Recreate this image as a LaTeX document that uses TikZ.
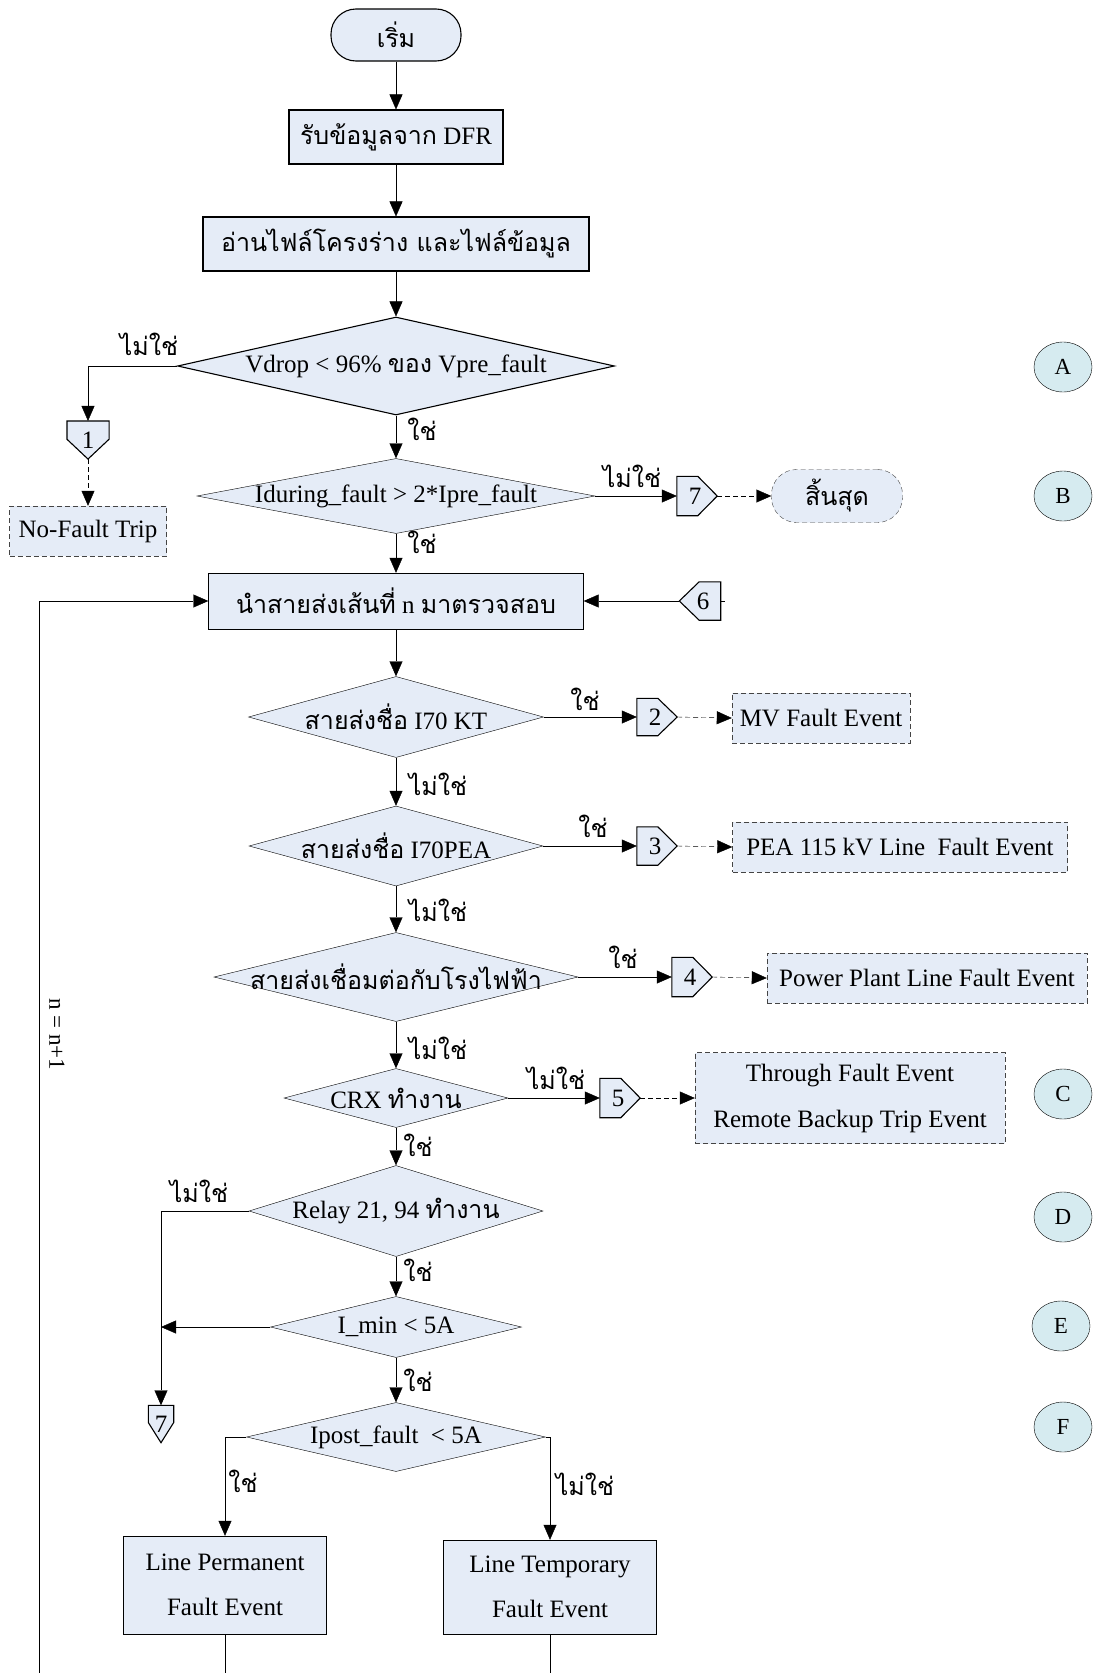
\documentclass[tikz,border=0pt]{standalone}
\usepackage{fontspec}
\setmainfont{Liberation Serif}
\newfontfamily\thaifont[Script=Thai]{Loma}
\newcommand\thx[1]{{\thaifont #1}}
\usetikzlibrary{shapes.geometric,arrows.meta,calc,backgrounds}
\definecolor{boxfill}{HTML}{E5ECF7}
\definecolor{circfill}{HTML}{D6EBF0}
\definecolor{dashcol}{HTML}{444444}
\tikzset{pentline/.style={draw=black, line width=1.1pt, fill=boxfill}}
% off-page connector outlines, drawn behind the named node
\newcommand\pentE[1]{\begin{pgfonlayer}{background}\path[pentline] (#1.north west) -- ($(#1.north west)!.52!(#1.north east)$) -- (#1.east) -- ($(#1.south west)!.52!(#1.south east)$) -- (#1.south west) -- cycle;\end{pgfonlayer}}
\newcommand\pentW[1]{\begin{pgfonlayer}{background}\path[pentline] (#1.north east) -- ($(#1.north east)!.52!(#1.north west)$) -- (#1.west) -- ($(#1.south east)!.52!(#1.south west)$) -- (#1.south east) -- cycle;\end{pgfonlayer}}
\newcommand\pentS[2]{\begin{pgfonlayer}{background}\path[pentline] (#1.north west) -- (#1.north east) -- ($(#1.north east)!#2!(#1.south east)$) -- (#1.south) -- ($(#1.north west)!#2!(#1.south west)$) -- cycle;\end{pgfonlayer}}
\begin{document}
\begin{tikzpicture}[x=1pt,y=-1pt,
  font=\fontsize{25}{30}\selectfont,
  line width=1.1pt,
  arr/.style={-{Triangle[length=15pt,width=13pt]}},
  dsh/.style={dash pattern=on 5pt off 3pt},
  proc/.style={rectangle, draw, fill=boxfill, inner sep=0pt},
  term/.style={rectangle, draw, fill=boxfill, rounded corners=25pt, inner sep=0pt},
  evt/.style={rectangle, draw=dashcol, dsh, fill=boxfill, inner sep=0pt},
  dec/.style={diamond, draw, fill=boxfill, inner sep=0pt},
  cn/.style={rectangle, inner sep=0pt, draw=none},
  circ/.style={ellipse, draw, fill=circfill, inner sep=0pt, minimum width=58pt, minimum height=50pt, font=\fontsize{23}{26}\selectfont},
  lbl/.style={inner sep=0pt, font=\fontsize{25}{30}\thaifont}
]
\useasboundingbox (0,0) rectangle (1094,1673);

% main column
\node[term, minimum width=130pt, minimum height=52pt] (start) at (396,35) {\thx{เริ่ม}};
\node[proc, minimum width=214pt, minimum height=54pt] (s1) at (396,137) {\thx{รับข้อมูลจาก} DFR};
\node[proc, minimum width=386pt, minimum height=54pt] (s2) at (396,244) {\thx{อ่านไฟล์โครงร่าง และไฟล์ข้อมูล}};
\node[dec, minimum width=437pt, minimum height=98pt] (d1) at (396,366) {\makebox[0pt]{Vdrop < 96\% \thx{ของ} Vpre\_fault}};
\node[cn, minimum width=41pt, minimum height=37pt] (n1) at (88,440) {1};
\pentS{n1}{.48}
\node[evt, minimum width=157pt, minimum height=50pt] (nofault) at (88,531) {No-Fault Trip};
\node[dec, minimum width=398pt, minimum height=75pt] (d2) at (396,496) {\makebox[0pt]{Iduring\_fault > 2*Ipre\_fault}};
\node[cn, minimum width=40pt, minimum height=39pt] (c7a) at (697,496) {\hspace*{-4pt}7};
\pentE{c7a}
\node[term, draw=dashcol, dsh, minimum width=131pt, minimum height=53pt] (end) at (837,496) {\thx{สิ้นสุด}};
\node[proc, minimum width=375pt, minimum height=56pt] (s3) at (396,601) {\thx{นำสายส่งเส้นที่} n \thx{มาตรวจสอบ}};
\node[cn, minimum width=41pt, minimum height=38pt] (c6) at (700,601) {\hspace*{6pt}6};
\pentW{c6}
\draw (c6.east) -- ++(4,0);
\node[dec, minimum width=295pt, minimum height=81pt] (d3) at (396,717) {\makebox[0pt]{\thx{สายส่งชื่อ} I70 KT}};
\node[cn, minimum width=40pt, minimum height=37pt] (c2) at (657,717) {\hspace*{-4pt}2};
\pentE{c2}
\node[evt, minimum width=178pt, minimum height=50pt] (mv) at (821,718) {MV Fault Event};
\node[dec, minimum width=294pt, minimum height=80pt] (d4) at (396,846) {\makebox[0pt]{\thx{สายส่งชื่อ} I70PEA}};
\node[cn, minimum width=40pt, minimum height=38pt] (c3) at (657,846) {\hspace*{-4pt}3};
\pentE{c3}
\node[evt, minimum width=335pt, minimum height=50pt] (pea) at (900,847) {PEA 115 kV Line\ \ Fault Event};
\node[dec, minimum width=364pt, minimum height=89pt] (d5) at (396,977) {\makebox[0pt]{\thx{สายส่งเชื่อมต่อกับโรงไฟฟ้า}}};
\node[cn, minimum width=40pt, minimum height=39pt] (c4) at (692,977) {\hspace*{-4pt}4};
\pentE{c4}
\node[evt, minimum width=320pt, minimum height=50pt] (pp) at (927,978) {Power Plant Line Fault Event};
\node[dec, minimum width=224pt, minimum height=59pt] (d6) at (396,1098) {\makebox[0pt]{CRX \thx{ทำงาน}}};
\node[cn, minimum width=40pt, minimum height=39pt] (c5) at (620,1098) {\hspace*{-4pt}5};
\pentE{c5}
\node[evt, minimum width=310pt, minimum height=91pt, align=center, font=\fontsize{25}{46}\selectfont] (tf) at (850,1098) {Through Fault Event\\Remote Backup Trip Event};
\node[dec, minimum width=294pt, minimum height=91pt] (d7) at (396,1211) {\makebox[0pt]{Relay 21, 94 \thx{ทำงาน}}};
\node[cn, minimum width=25pt, minimum height=37pt] (c7b) at (161,1424) {7};
\pentS{c7b}{.46}
\node[dec, minimum width=251pt, minimum height=61pt] (d8) at (396,1327) {\makebox[0pt]{I\_min < 5A}};
\node[dec, minimum width=299pt, minimum height=69pt] (d9) at (396,1437) {\makebox[0pt]{Ipost\_fault\ \ < 5A}};
\node[proc, minimum width=203pt, minimum height=98pt, align=center, font=\fontsize{25}{45}\selectfont] (perm) at (225,1585) {Line Permanent\\Fault Event};
\node[proc, minimum width=213pt, minimum height=94pt, align=center, font=\fontsize{25}{45}\selectfont] (temp) at (550,1587) {Line Temporary\\Fault Event};

% circles
\node[circ] (cA) at (1063,367) {A};
\node[circ] (cB) at (1063,496) {B};
\node[circ] (cC) at (1063,1094) {C};
\node[circ] (cD) at (1063,1217) {D};
\node[circ] (cE) at (1061,1326) {E};
\node[circ] (cF) at (1063,1427) {F};

% loop
\coordinate (loopb) at (39,1673);
\node[rotate=-90, inner sep=0pt, font=\fontsize{23}{26}\selectfont] (inc) at (57,1034) {n = n+1};

% connectors
\draw[arr] (start) -- (s1);
\draw[arr] (s1) -- (s2);
\draw[arr] (s2) -- (d1);
\draw[arr] (d1.west) -| (n1.north);
\draw[arr, dsh] (n1.south) -- (nofault.north);
\draw[arr] (d1.south) -- (d2.north);
\draw[arr] (d2.east) -- (c7a.west);
\draw[arr, dsh] (c7a.east) -- (end.west);
\draw[arr] (d2.south) -- (s3.north);
\draw[arr] (c6.west) -- (s3.east);
\draw[arr] (loopb) |- (s3.west);
\draw[arr] (s3.south) -- (d3.north);
\draw[arr] (d3.east) -- (c2.west);
\draw[arr, dsh] (c2.east) -- (mv.west);
\draw[arr] (d3.south) -- (d4.north);
\draw[arr] (d4.east) -- (c3.west);
\draw[arr, dsh] (c3.east) -- (pea.west);
\draw[arr] (d4.south) -- (d5.north);
\draw[arr] (d5.east) -- (c4.west);
\draw[arr, dsh] (c4.east) -- (pp.west);
\draw[arr] (d5.south) -- (d6.north);
\draw[arr] (d6.east) -- (c5.west);
\draw[arr, dsh] (c5.east) -- (tf.west);
\draw[arr] (d6.south) -- (d7.north);
\draw[arr] (d7.west) -| (c7b.north);
\draw[arr] (d7.south) -- (d8.north);
\draw[arr] (d8.west) -- (d8.west -| c7b.north);
\draw[arr] (d8.south) -- (d9.north);
\draw[arr] (d9.west) -| (perm.north);
\draw[arr] (d9.east) -| (temp.north);
\draw (perm.south) -- (perm.south |- loopb);
\draw (temp.south) -- (temp.south |- loopb);

% labels
\node[lbl] (l1) at (149,344) {ไม่ใช่};
\node[lbl] (l2) at (422,429) {ใช่};
\node[lbl] (l3) at (632,476) {ไม่ใช่};
\node[lbl] (l4) at (422,542) {ใช่};
\node[lbl] (l5) at (585,699) {ใช่};
\node[lbl] (l6) at (438,784) {ไม่ใช่};
\node[lbl] (l7) at (593,826) {ใช่};
\node[lbl] (l8) at (438,910) {ไม่ใช่};
\node[lbl] (l9) at (623,957) {ใช่};
\node[lbl] (l10) at (438,1048) {ไม่ใช่};
\node[lbl] (l11) at (556,1078) {ไม่ใช่};
\node[lbl] (l12) at (418,1145) {ใช่};
\node[lbl] (l13) at (199,1191) {ไม่ใช่};
\node[lbl] (l14) at (418,1270) {ใช่};
\node[lbl] (l15) at (418,1380) {ใช่};
\node[lbl] (l16) at (243,1481) {ใช่};
\node[lbl] (l17) at (585,1484) {ไม่ใช่};
\end{tikzpicture}
\end{document}
